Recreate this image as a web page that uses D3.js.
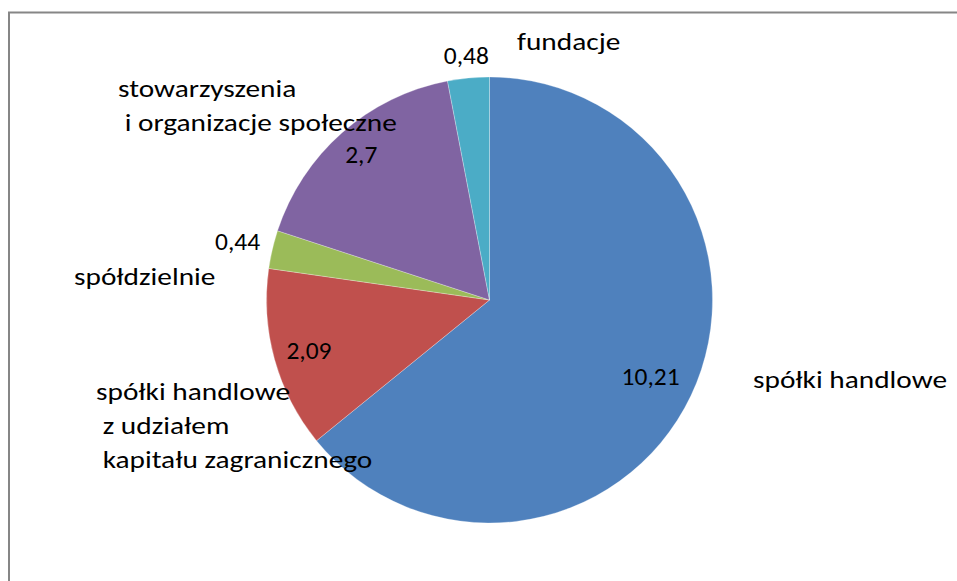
<!DOCTYPE html>
<html><head><meta charset="utf-8">
<script src="https://cdn.jsdelivr.net/npm/d3@7"></script>
<style>body{margin:0;background:#fff}svg{display:block}</style>
</head><body>
<svg id="c" width="957" height="581"></svg>
<script>
// ---- data ----
const categories = ["spółki handlowe", "spółki handlowe\n z udziałem\n kapitału zagranicznego", "spółdzielnie", "stowarzyszenia\n i organizacje społeczne", "fundacje"];
const values = [10.21, 2.09, 0.44, 2.7, 0.48];
const valueLabels = ["10,21", "2,09", "0,44", "2,7", "0,48"];
const colors = ["#4F81BD", "#C0504D", "#9BBB59", "#8064A2", "#4BACC6"];

// ---- layout ----
const W = 957, H = 581;
const cx = 489.5, cy = 300, R = 223;
const valueRadius = [0.8, 0.84, 1.16, 0.87, 1.1];
const catPos = [[753, 388], [96, 400], [74, 285], [118, 97], [517, 50]];
const lineH = 34;
const fontFam = "Carlito, Lato, 'Open Sans', sans-serif";
const fs = 24;

const svg = d3.select("#c");
svg.append("rect").attr("x", 9).attr("y", 12.5).attr("width", W + 20).attr("height", H + 20)
  .attr("fill", "none").attr("stroke", "#868686").attr("stroke-width", 2);

const pie = d3.pie().sort(null).value(d => d)(values);
const arc = d3.arc().innerRadius(0).outerRadius(R);
const g = svg.append("g").attr("transform", `translate(${cx},${cy})`);
g.selectAll("path").data(pie).join("path")
  .attr("d", arc).attr("fill", (d, i) => colors[i])
  .attr("stroke", "rgba(255,255,255,0.35)").attr("stroke-width", 0.8);

function measure(str, size) {
  const t = svg.append("text").style("font-family", fontFam).style("font-size", size + "px").text(str);
  const w = t.node().getComputedTextLength(); t.remove();
  return w;
}
const labK = 194 / measure("spółki handlowe", fs);
const valK = 58 / measure("10,21", fs);

// value labels
pie.forEach((d, i) => {
  const a = (d.startAngle + d.endAngle) / 2;
  const x = cx + Math.sin(a) * R * valueRadius[i];
  const y = cy - Math.cos(a) * R * valueRadius[i];
  svg.append("g").attr("transform", `translate(${x},${y}) scale(${valK},1)`)
    .append("text").attr("dy", "0.36em").attr("text-anchor", "middle")
    .style("font-family", fontFam).style("font-size", fs + "px").attr("fill", "#000")
    .text(valueLabels[i]);
});

// category labels
categories.forEach((c, i) => {
  const t = svg.append("g").attr("transform", `translate(${catPos[i][0]},${catPos[i][1]}) scale(${labK},1)`)
    .append("text").style("font-family", fontFam).style("font-size", fs + "px").attr("fill", "#000")
    .style("white-space", "pre");
  c.split("\n").forEach((line, j) => {
    t.append("tspan").attr("x", 0).attr("y", j * lineH).text(line);
  });
});
</script>
</body></html>
